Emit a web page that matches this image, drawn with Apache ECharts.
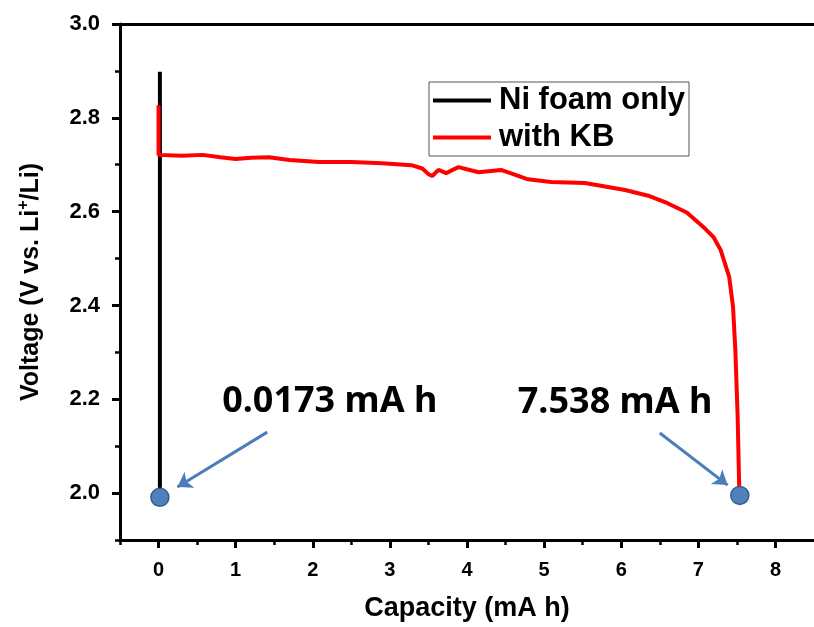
<!DOCTYPE html>
<html>
<head>
<meta charset="utf-8">
<script src="https://cdn.jsdelivr.net/npm/echarts@6/dist/echarts.min.js"></script>
<style>
  html, body { margin: 0; padding: 0; background: #fff; }
  #chart { width: 814px; height: 627px; }
</style>
</head>
<body>
<div id="chart"></div>
<script>
// Ni foam only: almost vertical drop at 0.0173 mA h
var niCap = [0.0173, 0.0173];
var niV = [2.898, 2.0];

// with KB: discharge curve, capacity (mA h) vs voltage
var kbCap = [0, 0, 0.3, 0.57, 0.8, 1.0, 1.2, 1.43, 1.7, 2.08, 2.5, 2.9, 3.28, 3.42, 3.5, 3.55, 3.63, 3.73, 3.8, 3.89,
  4.15, 4.44, 4.6, 4.79, 5.09, 5.53, 6.05, 6.35, 6.6, 6.85, 7.08, 7.2, 7.29, 7.40, 7.45, 7.48, 7.51, 7.53, 7.538];
var kbV = [2.827, 2.721, 2.719, 2.721, 2.716, 2.712, 2.715, 2.716, 2.710, 2.706, 2.706, 2.703, 2.699, 2.692, 2.680, 2.676, 2.689, 2.682, 2.688, 2.695,
  2.684, 2.689, 2.680, 2.669, 2.663, 2.661, 2.646, 2.634, 2.618, 2.598, 2.565, 2.545, 2.518, 2.461, 2.397, 2.305, 2.162, 2.013, 2.0];

// end-point markers and their labels
var endCap = [0.0173, 7.538];
var endV = [1.991, 1.995];
var endText = ["0.0173 mA h", "7.538 mA h"];
var textPos = [[2.22, 2.194], [5.92, 2.192]];
var arrowFrom = [[1.41, 2.130], [6.50, 2.128]];
var arrowTo = [[0.245, 2.013], [7.38, 2.017]];

var xMajor = [0, 1, 2, 3, 4, 5, 6, 7, 8];
var xMinor = [-0.5, 0.5, 1.5, 2.5, 3.5, 4.5, 5.5, 6.5, 7.5];
var yMajor = [2.0, 2.2, 2.4, 2.6, 2.8, 3.0];
var yMinor = [1.9, 2.1, 2.3, 2.5, 2.7, 2.9];

function zip(a, b) {
  return a.map(function (v, i) { return [v, b[i]]; });
}

var myChart = echarts.init(document.getElementById("chart"));
var font = "Liberation Sans, Arial, sans-serif";
var axisLine = { show: true, onZero: false, lineStyle: { color: "#000", width: 3 } };

var option = {
  backgroundColor: "#fff",
  animation: false,
  grid: { left: 120, top: 24, right: -3, bottom: 87 },
  legend: {
    left: 429, top: 82,
    orient: "vertical",
    data: ["Ni foam only", "with KB"],
    borderColor: "#555", borderWidth: 1,
    padding: [3, 4, 3, 4],
    itemWidth: 58, itemHeight: 4, itemGap: 6,
    icon: "rect",
    textStyle: { fontFamily: font, fontWeight: "bold", fontSize: 31, color: "#000", padding: [0, 0, 0, 3] }
  },
  xAxis: [
    {
      type: "value", min: -0.5, max: 8.5,
      name: "Capacity (mA h)", nameLocation: "middle", nameGap: 55,
      nameTextStyle: { fontFamily: font, fontWeight: "bold", fontSize: 27, color: "#000" },
      axisLine: axisLine,
      splitLine: { show: false },
      axisTick: { show: true, customValues: xMajor, length: 8, lineStyle: { color: "#000", width: 3 } },
      axisLabel: { customValues: xMajor, margin: 20, fontFamily: font, fontWeight: "bold", fontSize: 20, color: "#000" }
    },
    {
      type: "value", min: -0.5, max: 8.5, position: "bottom",
      axisLine: { show: false, onZero: false }, splitLine: { show: false },
      axisTick: { show: true, customValues: xMinor, length: 5, lineStyle: { color: "#000", width: 2.5 } },
      axisLabel: { show: false }
    },
    {
      type: "value", min: -0.5, max: 8.5, position: "top",
      axisLine: axisLine, splitLine: { show: false },
      axisTick: { show: false }, axisLabel: { show: false }
    }
  ],
  yAxis: [
    {
      type: "value", min: 1.9, max: 3.0, position: "left",
      name: "Voltage (V vs. Li{sup|+}/Li)", nameLocation: "middle", nameGap: 74,
      nameTextStyle: {
        fontFamily: font, fontWeight: "bold", fontSize: 25, color: "#000",
        rich: { sup: { fontFamily: font, fontWeight: "bold", fontSize: 16, color: "#000", verticalAlign: "top", padding: [0, 0, 14, 0] } }
      },
      axisLine: axisLine,
      splitLine: { show: false },
      axisTick: { show: true, customValues: yMajor, length: 8, lineStyle: { color: "#000", width: 3 } },
      axisLabel: {
        customValues: yMajor, margin: 20, fontFamily: font, fontWeight: "bold", fontSize: 22, color: "#000",
        formatter: function (v) { return v.toFixed(1); }
      }
    },
    {
      type: "value", min: 1.9, max: 3.0, position: "left",
      axisLine: { show: false, onZero: false }, splitLine: { show: false },
      axisTick: { show: true, customValues: yMinor, length: 5, lineStyle: { color: "#000", width: 2.5 } },
      axisLabel: { show: false }
    }
  ],
  series: [
    {
      name: "Ni foam only", type: "line", data: zip(niCap, niV),
      showSymbol: false, symbol: "none",
      lineStyle: { color: "#000", width: 4 }, itemStyle: { color: "#000" }
    },
    {
      name: "with KB", type: "line", data: zip(kbCap, kbV),
      showSymbol: false, symbol: "none",
      lineStyle: { color: "#ff0000", width: 4 }, itemStyle: { color: "#ff0000" }
    },
    {
      name: "ends", type: "scatter", data: zip(endCap, endV),
      symbolSize: 18,
      itemStyle: { color: "#4f81bd", borderColor: "#385d8a", borderWidth: 1.5, opacity: 1 },
      z: 5,
      markLine: {
        silent: true,
        symbol: ["none", "arrow"], symbolSize: [14, 14],
        lineStyle: { color: "#4a7ebb", width: 3, type: "solid" },
        label: { show: false },
        data: arrowFrom.map(function (p, i) {
          return [{ coord: p }, { coord: arrowTo[i] }];
        })
      },
      markPoint: {
        silent: true,
        symbol: "circle", symbolSize: 1,
        itemStyle: { color: "rgba(0,0,0,0)" },
        label: {
          show: true, position: "inside",
          fontFamily: "Noto Sans, sans-serif", fontWeight: "bold", fontSize: 36, color: "#000",
          formatter: function (p) { return p.name; }
        },
        data: textPos.map(function (p, i) {
          return { name: endText[i], coord: p };
        })
      }
    }
  ]
};
myChart.setOption(option, true);
window.addEventListener("resize", function () {
  myChart.resize();
});
</script>
</body>
</html>
